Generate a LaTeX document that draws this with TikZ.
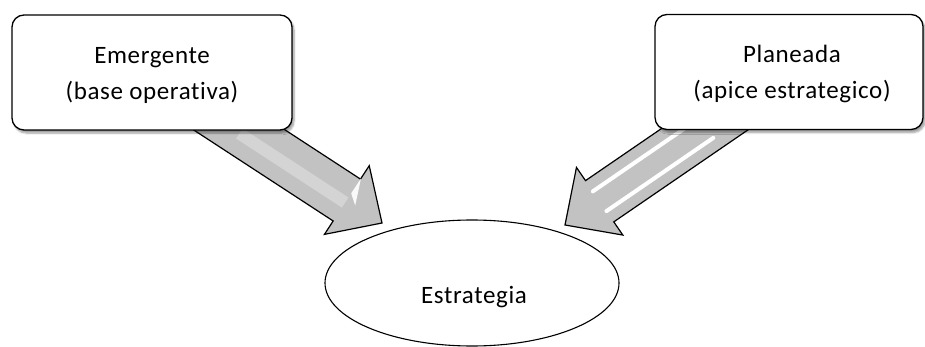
\documentclass[tikz,border=0pt]{standalone}
\usepackage{fontspec}
\setmainfont{Carlito}[Ligatures=NoCommon, LetterSpace=2.5]
\usetikzlibrary{calc,shapes.geometric,shadows.blur}
\tikzset{
  box/.style={draw=black, line width=1.3pt, rounded corners=12pt, fill=white,
    minimum height=115pt, inner sep=0pt,
    blur shadow={shadow xshift=2pt, shadow yshift=-3pt, shadow blur steps=6, shadow opacity=40}},
  boxtext/.style={align=center, font=\fontsize{25}{36}\selectfont},
  oval/.style={draw=black, line width=1.1pt, ellipse, fill=white,
    minimum width=294pt, minimum height=126pt, inner sep=0pt},
  lbl/.style={font=\fontsize{25}{30}\selectfont},
  blockarrow/.style={draw=black, line width=1.2pt, line join=miter, fill=gray!48},
  shine/.style={draw=white, line cap=round},
}
\newcommand{\blockarr}[3]{% start, tip, extra decoration
  \coordinate (bs) at ($(#2)!1.35!(#1)$);
  \coordinate (bb) at ($(#2)!42pt!(#1)$);
  \path[blockarrow]
    ($(bs)!25pt!90:(#2)$) -- ($(bb)!25pt!90:(#2)$) -- ($(bb)!41pt!90:(#2)$)
    -- (#2) -- ($(bb)!41pt!-90:(#2)$) -- ($(bb)!25pt!-90:(#2)$)
    -- ($(bs)!25pt!-90:(#2)$) -- cycle;
  #3
}
\begin{document}
\begin{tikzpicture}[x=1pt,y=-1pt]
\useasboundingbox (0,0) rectangle (925,347);
% positions
\coordinate (emc) at (152,72.5);
\coordinate (plc) at (789,72);
% arrows (drawn first, boxes cover their starts)
\coordinate (s1) at ($(emc)+(89,58.5)$);
\coordinate (t1) at (382,223);
\coordinate (s2) at ($(plc)+(-82.5,56)$);
\coordinate (t2) at (565,225);
\blockarr{s1}{t1}{%
  \draw[white, opacity=0.3, line width=12pt]
    ($(s1)!-3pt!90:(t1)$) -- ($(bb)!-3pt!90:(t1)$);
  \fill[white, opacity=0.9]
    ($(bb)!8pt!90:(t1)$) -- ($(bb)!26pt!90:(t1)$) -- ($(bb)!10pt!(t1)$) -- cycle;
}
\blockarr{s2}{t2}{%
  \draw[shine, line width=4pt]
    ($(s2)!12pt!90:(t2)$) -- ($(bb)!12pt!90:(t2)$);
  \draw[shine, line width=4pt]
    ($(s2)!12pt!-90:(t2)$) -- ($(bb)!12pt!-90:(t2)$);
}
% boxes
\node[box, minimum width=280pt] (em) at (emc) {};
\node[boxtext] (emtxt) at ($(em.center)+(0,3)$) {Emergente\\(base operativa)};
\node[box, minimum width=268pt] (pl) at (plc) {};
\node[boxtext] (pltxt) at ($(pl.center)+(3,2)$) {Planeada\\(apice estrategico)};
% ellipse
\node[oval] (es) at (472,283) {};
\node[lbl] (estxt) at ($(es.center)+(2,14)$) {Estrategia};
\end{tikzpicture}
\end{document}
